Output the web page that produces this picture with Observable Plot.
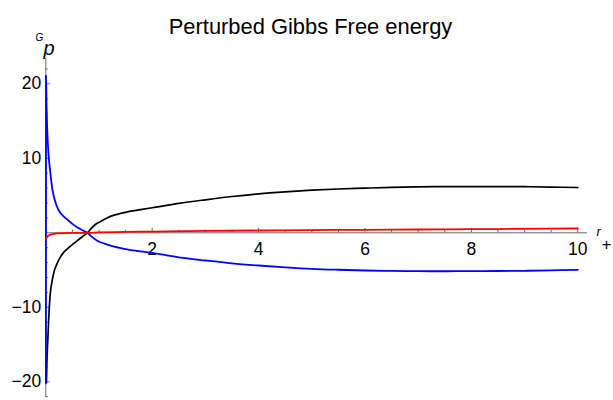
<!DOCTYPE html>
<html>
<head>
<meta charset="utf-8">
<script src="https://cdn.jsdelivr.net/npm/d3@7"></script>
<script src="https://cdn.jsdelivr.net/npm/@observablehq/plot@0.6"></script>
<style>
  html, body { margin: 0; padding: 0; background: #fff; }
  #chart svg { display: block; font-family: "Liberation Sans", Arial, sans-serif; }
</style>
</head>
<body>
<div id="chart"></div>
<script>
// Perturbed Gibbs free energy G_p against horizon radius r_+
const title = "Perturbed Gibbs Free energy";

// black curve
const rBlack = [0.012, 0.02, 0.03, 0.04, 0.055, 0.07, 0.09, 0.12, 0.16, 0.21, 0.27, 0.34, 0.43, 0.52, 0.62, 0.7, 0.78, 0.85, 0.92, 1.0, 1.15, 1.3, 1.53, 1.78, 2.0, 2.5, 3, 3.5, 4, 4.5, 5, 5.5, 6, 6.5, 7, 7.5, 8, 8.5, 9, 9.5, 10];
const gBlack = [-20.1, -17.5, -15.5, -14.0, -11.5, -9.5, -7.8, -6.4, -5.1, -4.16, -3.3, -2.6, -2.0, -1.45, -0.9, -0.45, 0.0, 0.55, 1.05, 1.4, 2.0, 2.4, 2.8, 3.1, 3.36, 3.95, 4.43, 4.87, 5.23, 5.5, 5.72, 5.88, 5.99, 6.1, 6.17, 6.2, 6.21, 6.21, 6.19, 6.14, 6.08];

// blue curve
const rBlue = [0.002, 0.004, 0.015, 0.025, 0.04, 0.056, 0.088, 0.12, 0.15, 0.2, 0.245, 0.3, 0.4, 0.5, 0.59, 0.7, 0.78, 0.85, 0.96, 1.1, 1.25, 1.47, 1.78, 2.0, 2.5, 3, 3.5, 4, 4.5, 5, 5.5, 6, 6.5, 7, 7.5, 8, 8.5, 9, 9.5, 10];
const gBlue = [-20.2, 21.1, 17.0, 14.2, 11.8, 10.1, 7.9, 6.0, 4.9, 3.7, 3.0, 2.45, 1.8, 1.2, 0.75, 0.3, 0.0, -0.45, -1.03, -1.45, -1.8, -2.15, -2.5, -2.7, -3.3, -3.72, -4.1, -4.39, -4.63, -4.83, -4.96, -5.06, -5.12, -5.15, -5.16, -5.15, -5.13, -5.1, -5.04, -4.97];

// red curve
const rRed = [0.01, 0.02, 0.035, 0.056, 0.1, 0.15, 0.25, 0.4, 0.6, 0.78, 1.0, 1.5, 2, 3, 4, 5, 6, 7, 8, 9, 10];
const gRed = [-0.8, -0.6, -0.45, -0.36, -0.22, -0.14, -0.08, -0.04, -0.01, 0.0, 0.05, 0.12, 0.17, 0.25, 0.31, 0.36, 0.4, 0.44, 0.48, 0.53, 0.58];

// ticks
const xMajor = [2, 4, 6, 8, 10];
const xLabels = ["2", "4", "6", "8", "10"];
const xMinor = [0.5, 1, 1.5, 2.5, 3, 3.5, 4.5, 5, 5.5, 6.5, 7, 7.5, 8.5, 9, 9.5];
const yMajor = [-20, -10, 10, 20];
const yLabels = ["\u221220", "\u221210", "10", "20"];
const yMinor = [-22, -18, -16, -14, -12, -8, -6, -4, -2, 2, 4, 6, 8, 12, 14, 16, 18, 22];

// axis extents
const xAxisExtent = [0, 10.18];
const yAxisExtent = [-22.1, 23.4];

const toPts = (rs, gs) => rs.map((r, i) => ({r, g: gs[i]}));
const black = toPts(rBlack, gBlack);
const blue = toPts(rBlue, gBlue);
const red = toPts(rRed, gRed);

const xRange = [45.3, 577.3];
const yRange = [232.3, 83.3];
const pxPerX = (xRange[1] - xRange[0]) / 10;
const pxPerY = (yRange[0] - yRange[1]) / 20;
const majorLen = 4.5, minorLen = 2.5;

const axisColor = "#6a6a6a";
const font = "Liberation Sans, Arial, sans-serif";

const chart = Plot.plot({
  width: 613,
  height: 400,
  margin: 0,
  x: {type: "linear", domain: [0, 10], range: xRange, axis: null},
  y: {type: "linear", domain: [0, 20], range: yRange, axis: null},
  style: {fontFamily: font, background: "#fff"},
  marks: [
    // axis lines
    Plot.ruleY([0], {x1: xAxisExtent[0], x2: xAxisExtent[1], stroke: axisColor, strokeWidth: 1}),
    Plot.ruleX([0], {y1: yAxisExtent[0], y2: yAxisExtent[1], stroke: axisColor, strokeWidth: 1}),
    // x ticks (pointing up)
    Plot.ruleX(xMajor, {x: d => d, y1: 0, y2: majorLen / pxPerY, stroke: axisColor}),
    Plot.ruleX(xMinor, {x: d => d, y1: 0, y2: minorLen / pxPerY, stroke: axisColor}),
    // y ticks (pointing right)
    Plot.ruleY(yMajor, {y: d => d, x1: 0, x2: majorLen / pxPerX, stroke: axisColor}),
    Plot.ruleY(yMinor, {y: d => d, x1: 0, x2: minorLen / pxPerX, stroke: axisColor}),
    // tick labels
    Plot.text(xMajor, {x: d => d, y: 0, text: (d, i) => xLabels[i], dy: 16.5, fontSize: 17.5, fill: "#000"}),
    Plot.text(yMajor, {x: 0, y: d => d, text: (d, i) => yLabels[i], dx: -4.5, textAnchor: "end", fontSize: 17.5, fill: "#000"}),
    // curves
    Plot.line(black, {x: "r", y: "g", stroke: "#000", strokeWidth: 1.7, curve: "monotone-x"}),
    Plot.line(blue, {x: "r", y: "g", stroke: "#0000ff", strokeWidth: 1.8, curve: "monotone-x"}),
    Plot.line(red, {x: "r", y: "g", stroke: "#ff0000", strokeWidth: 1.8, curve: "monotone-x"}),
    // axis labels
    Plot.text(["G"], {frameAnchor: "top-left", dx: 35, dy: 33, textAnchor: "start", fontSize: 10, fontStyle: "italic", fill: "#000"}),
    Plot.text(["p"], {frameAnchor: "top-left", dx: 43, dy: 40.5, textAnchor: "start", fontSize: 20, fontStyle: "italic", fill: "#000"}),
    Plot.text(["r"], {frameAnchor: "top-left", dx: 596, dy: 225.8, textAnchor: "start", fontSize: 13, fontStyle: "italic", fill: "#000"}),
    Plot.text(["+"], {frameAnchor: "top-left", dx: 601, dy: 237.1, textAnchor: "start", fontSize: 17, fill: "#000"}),
    // title
    Plot.text([title], {frameAnchor: "top", dx: 3.5, dy: 18.1, fontSize: 21.9, fill: "#000"})
  ]
});
document.getElementById("chart").append(chart);
</script>
</body>
</html>
